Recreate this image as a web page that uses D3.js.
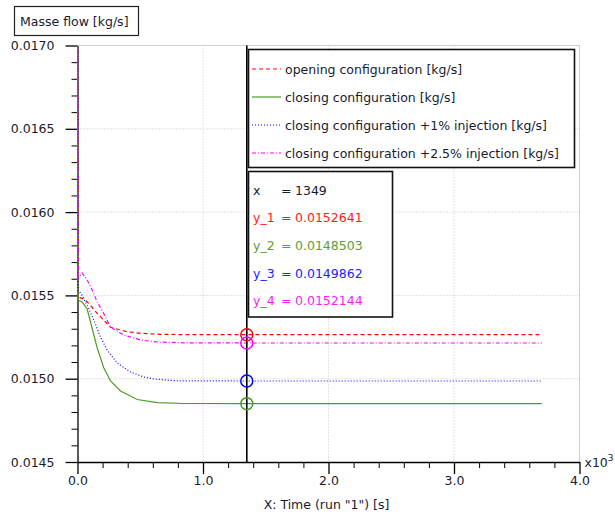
<!DOCTYPE html>
<html>
<head>
<meta charset="utf-8">
<script src="https://cdn.jsdelivr.net/npm/d3@7"></script>
<style>
  body { margin: 0; background: #fff; }
  svg { display: block; }
  text { font-family: "DejaVu Sans", sans-serif; }
</style>
</head>
<body>
<svg id="chart" width="615" height="518"></svg>
<script>
// Axis ticks (time in s, shown in units of 10^3 s)
const xMajorTicks = [0, 1000, 2000, 3000, 4000];
const xTickLabels = ["0.0", "1.0", "2.0", "3.0", "4.0"];
const xMinorTicks = [200, 400, 600, 800, 1200, 1400, 1600, 1800, 2200, 2400, 2600, 2800, 3200, 3400, 3600, 3800];
const yMajorTicks = [0.0145, 0.0150, 0.0155, 0.0160, 0.0165, 0.0170];
const yTickLabels = ["0.0145", "0.0150", "0.0155", "0.0160", "0.0165", "0.0170"];
const yMinorTicks = [0.0146, 0.0147, 0.0148, 0.0149, 0.0151, 0.0152, 0.0153, 0.0154,
                     0.0156, 0.0157, 0.0158, 0.0159, 0.0161, 0.0162, 0.0163, 0.0164,
                     0.0166, 0.0167, 0.0168, 0.0169];

// Series names
const seriesNames = [
  "opening configuration [kg/s]",
  "closing configuration [kg/s]",
  "closing configuration +1% injection [kg/s]",
  "closing configuration +2.5% injection [kg/s]"
];

// Mass flow traces: time [s] and value [kg/s]
const openingTime  = [0, 3, 37, 77, 157, 263, 396, 502, 661, 874, 1349, 2000, 3000, 3700];
const openingFlow  = [0.0180, 0.015490, 0.0154826, 0.0154622, 0.0153926, 0.0153085, 0.0152821,
                      0.0152725, 0.0152665, 0.0152645, 0.0152641, 0.0152641, 0.0152641, 0.0152641];

const closingTime  = [0, 3, 37, 77, 104, 157, 210, 263, 343, 476, 635, 850, 1349, 2000, 3000, 3700];
const closingFlow  = [0.0180, 0.0154724, 0.0154604, 0.0154184, 0.0153403, 0.0151843, 0.0150642,
                      0.0149862, 0.0149262, 0.0148752, 0.0148560, 0.0148510, 0.0148503, 0.0148503,
                      0.0148503, 0.0148503];

const inj1Time     = [0, 3, 30, 77, 130, 183, 236, 316, 422, 528, 608, 800, 1349, 2000, 3000, 3700];
const inj1Flow     = [0.0180, 0.0155324, 0.0155084, 0.0154424, 0.0153523, 0.0152503, 0.0151723,
                      0.0150942, 0.0150402, 0.0150102, 0.0149982, 0.0149870, 0.0149862, 0.0149862,
                      0.0149862, 0.0149862];

const inj25Time    = [0, 5, 37, 77, 117, 157, 207, 263, 367, 502, 635, 850, 1349, 2000, 3000, 3700];
const inj25Flow    = [0.0180, 0.0156044, 0.0156345, 0.0155924, 0.0155324, 0.0154604, 0.0153944,
                      0.0153103, 0.0152623, 0.0152323, 0.0152203, 0.0152150, 0.0152144, 0.0152144,
                      0.0152144, 0.0152144];

// Cursor readout
const cursorTime = 1349;
const cursorLabels = ["y_1", "y_2", "y_3", "y_4"];
const cursorValues = [0.0152641, 0.0148503, 0.0149862, 0.0152144];

const colors = ["#ff0000", "#4f9a25", "#0000ff", "#ff00ff"];
const textColors = ["#ff1a1a", "#5f9c36", "#2222ff", "#ff1aff"];
const dashes = ["4,3", null, "1,2", "4,2,1,2"];
const fontSize = 12.5;
const textColor = "#1a1a2e";

const svg = d3.select("#chart");
const plotLeft = 77.5, plotRight = 579.5, plotTop = 45.5, plotBottom = 462;

const x = d3.scaleLinear().domain([0, 4000]).range([plotLeft, plotRight]);
const y = d3.scaleLinear().domain([0.0145, 0.0170]).range([plotBottom, plotTop]);

// Grid
const grid = svg.append("g");
grid.selectAll(".vg").data([1000, 2000, 3000]).join("line")
  .attr("x1", d => x(d)).attr("x2", d => x(d)).attr("y1", plotTop).attr("y2", plotBottom)
  .attr("stroke", "#c4c4c4").attr("stroke-dasharray", "1,2");
grid.selectAll(".hg").data([0.0150, 0.0155, 0.0160, 0.0165]).join("line")
  .attr("x1", plotLeft).attr("x2", plotRight).attr("y1", d => y(d)).attr("y2", d => y(d))
  .attr("stroke", "#c4c4c4").attr("stroke-dasharray", "1,2");
grid.append("line").attr("x1", plotLeft).attr("x2", plotRight).attr("y1", y(0.0170)).attr("y2", y(0.0170))
  .attr("stroke", "#cfcfcf");
grid.append("line").attr("x1", x(4000)).attr("x2", x(4000)).attr("y1", plotTop).attr("y2", plotBottom)
  .attr("stroke", "#cfcfcf");

// Axes
const axisFont = g => g.selectAll("text")
  .attr("font-family", "DejaVu Sans, sans-serif").attr("font-size", fontSize).attr("fill", textColor);

svg.append("g").attr("transform", `translate(${plotLeft},0)`)
  .call(d3.axisLeft(y).tickValues(yMinorTicks).tickSize(6).tickFormat(""))
  .call(g => g.select(".domain").remove())
  .call(g => g.selectAll("line").attr("stroke", "#000"));
svg.append("g").attr("transform", `translate(${plotLeft},0)`)
  .call(d3.axisLeft(y).tickValues(yMajorTicks).tickSize(12).tickSizeOuter(0).tickPadding(11)
    .tickFormat((d, i) => yTickLabels[i]))
  .call(g => g.select(".domain").attr("stroke", "#000").attr("stroke-width", 1.3))
  .call(g => g.selectAll("line").attr("stroke", "#000").attr("stroke-width", 1.3))
  .call(axisFont);

svg.append("g").attr("transform", `translate(0,${plotBottom})`)
  .call(d3.axisBottom(x).tickValues(xMinorTicks).tickSize(6).tickFormat(""))
  .call(g => g.select(".domain").remove())
  .call(g => g.selectAll("line").attr("stroke", "#000"));
svg.append("g").attr("transform", `translate(0,${plotBottom})`)
  .call(d3.axisBottom(x).tickValues(xMajorTicks).tickSize(12).tickSizeOuter(0).tickPadding(2)
    .tickFormat((d, i) => xTickLabels[i]))
  .call(g => g.select(".domain").attr("stroke", "#000").attr("stroke-width", 1.3))
  .call(g => g.selectAll("line").attr("stroke", "#000").attr("stroke-width", 1.3))
  .call(axisFont);

// Traces, clipped to the plot area (drawn over the axis line)
svg.append("clipPath").attr("id", "plotclip").append("rect")
  .attr("x", plotLeft - 1).attr("y", plotTop).attr("width", plotRight - plotLeft + 1).attr("height", plotBottom - plotTop);

const traces = [
  [openingTime, openingFlow],
  [closingTime, closingFlow],
  [inj1Time, inj1Flow],
  [inj25Time, inj25Flow]
];
const line = d3.line().x(d => x(d[0])).y(d => y(d[1]));
const plot = svg.append("g").attr("clip-path", "url(#plotclip)");
traces.forEach((tr, i) => {
  const pts = tr[0].map((t, k) => [t, tr[1][k]]);
  plot.append("path").datum(pts).attr("d", line)
    .attr("fill", "none").attr("stroke", colors[i]).attr("stroke-width", 1.2)
    .attr("stroke-dasharray", dashes[i]);
});

// x10^3 exponent marker
const expo = svg.append("text").attr("x", plotRight + 5).attr("y", plotBottom + 5)
  .attr("font-size", fontSize).attr("fill", textColor);
expo.append("tspan").text("x10");
expo.append("tspan").attr("dy", -6).attr("font-size", 9).text("3");

// Axis titles
svg.append("text").attr("x", (plotLeft + plotRight) / 2 - 2).attr("y", 509)
  .attr("text-anchor", "middle").attr("font-size", fontSize).attr("fill", textColor)
  .text('X: Time (run "1") [s]');
svg.append("rect").attr("x", 14.5).attr("y", 6.5).attr("width", 124).attr("height", 29)
  .attr("fill", "#fff").attr("stroke", "#222").attr("stroke-width", 1.2);
svg.append("text").attr("x", 20).attr("y", 25.5).attr("font-size", fontSize).attr("fill", textColor)
  .text("Masse flow [kg/s]");

// Cursor line and markers
svg.append("line").attr("x1", x(cursorTime)).attr("x2", x(cursorTime))
  .attr("y1", plotTop).attr("y2", plotBottom).attr("stroke", "#000").attr("stroke-width", 1.6);
cursorValues.forEach((v, i) => {
  svg.append("circle").attr("cx", x(cursorTime)).attr("cy", y(v)).attr("r", 6)
    .attr("fill", "none").attr("stroke", colors[i]).attr("stroke-width", 1.5);
});

// Legend box
const lg = svg.append("g");
lg.append("rect").attr("x", 248.5).attr("y", 49.5).attr("width", 326).attr("height", 118)
  .attr("fill", "#fff").attr("stroke", "#111").attr("stroke-width", 1.6);
seriesNames.forEach((name, i) => {
  const cy = 69 + i * 28;
  lg.append("line").attr("x1", 252).attr("x2", 281).attr("y1", cy).attr("y2", cy)
    .attr("stroke", colors[i]).attr("stroke-width", 1.2).attr("stroke-dasharray", dashes[i]);
  lg.append("text").attr("x", 285).attr("y", cy + 4.5).attr("font-size", fontSize)
    .attr("fill", textColor).text(name);
});

// Readout box
const rd = svg.append("g");
rd.append("rect").attr("x", 248.5).attr("y", 171.5).attr("width", 144).attr("height", 145.5)
  .attr("fill", "#fff").attr("stroke", "#111").attr("stroke-width", 1.6);
const rows = [["x", String(cursorTime), textColor]].concat(
  cursorLabels.map((l, i) => [l, String(cursorValues[i]), textColors[i]]));
rows.forEach((r, i) => {
  const cy = 190 + i * 27.7;
  rd.append("text").attr("x", 253).attr("y", cy + 4.5).attr("font-size", fontSize).attr("fill", r[2]).text(r[0]);
  rd.append("text").attr("x", 281).attr("y", cy + 4.5).attr("font-size", fontSize).attr("fill", r[2]).text("=");
  rd.append("text").attr("x", 295).attr("y", cy + 4.5).attr("font-size", fontSize).attr("fill", r[2]).text(r[1]);
});
</script>
</body>
</html>
